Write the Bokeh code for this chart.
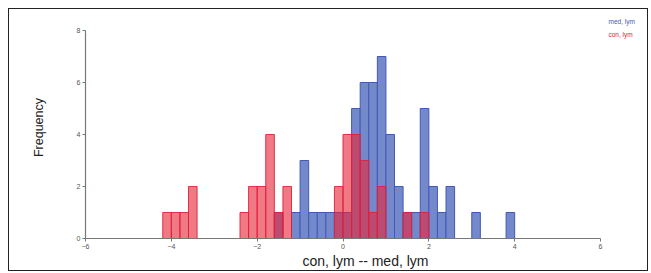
from bokeh.plotting import figure
from bokeh.models import FixedTicker
from bokeh.core.properties import value
from bokeh.embed import file_html
from bokeh.resources import INLINE

# Histogram data (bin left edge, count), bin width 0.2
bin_width = 0.2
med_left = [-1.6, -1.2, -1.0, -0.8, -0.6, -0.4, -0.2, 0.0, 0.2, 0.4, 0.6, 0.8,
            1.0, 1.2, 1.4, 1.6, 1.8, 2.0, 2.2, 2.4, 3.0, 3.8]
med_count = [1, 1, 3, 1, 1, 1, 1, 1, 5, 6, 6, 7,
             4, 2, 1, 1, 5, 2, 1, 2, 1, 1]
con_left = [-4.2, -4.0, -3.8, -3.6, -2.4, -2.2, -2.0, -1.8, -1.6, -1.4,
            -0.2, 0.0, 0.2, 0.4, 0.6, 0.8, 1.4, 1.8]
con_count = [1, 1, 1, 2, 1, 2, 2, 4, 1, 2,
             2, 4, 4, 3, 1, 2, 1, 1]
x_ticks = [-6, -4, -2, 0, 2, 4, 6]
y_ticks = [0, 2, 4, 6, 8]
series_names = ["med, lym", "con, lym"]
series_colors = ["#3f57b3", "#e0203a"]

p = figure(width=640, height=263, x_range=(-6, 7.048), y_range=(0, 8.538),
           output_backend="svg", toolbar_location=None,
           min_border_left=76, min_border_right=4, min_border_top=7, min_border_bottom=34)
p.styles = {"border": "1px solid #222", "margin": "8px 0 0 8px"}
p.outline_line_color = None
p.xgrid.visible = False
p.ygrid.visible = False

p.quad(left=med_left, right=[v + bin_width for v in med_left], bottom=0, top=med_count,
       fill_color="#7489cc", line_color="#4259b5", line_width=1)
p.quad(left=con_left, right=[v + bin_width for v in con_left], bottom=0, top=con_count,
       fill_color="#e8253a", fill_alpha=0.62, line_color="#e0203a", line_alpha=0.9, line_width=1)

for ax in (p.xaxis[0], p.yaxis[0]):
    ax.axis_line_color = "#777777"
    ax.axis_line_width = 1.2
    ax.major_tick_line_color = "#777777"
    ax.major_tick_in = 0
    ax.major_tick_out = 3
    ax.minor_tick_line_color = None
    ax.major_label_text_font = "Liberation Sans"
    ax.major_label_text_font_size = "7px"
    ax.major_label_text_color = "#555555"
    ax.major_label_standoff = 2
    ax.axis_label_text_font = "Liberation Sans"
    ax.axis_label_text_font_style = "normal"
    ax.axis_label_text_color = "#222222"

p.xaxis.ticker = FixedTicker(ticks=x_ticks)
p.yaxis.ticker = FixedTicker(ticks=y_ticks)
p.xaxis.bounds = (x_ticks[0], x_ticks[-1])
p.yaxis.bounds = (y_ticks[0], y_ticks[-1])
p.xaxis.axis_label = "con, lym -- med, lym"
p.xaxis.axis_label_text_font_size = "14px"
p.xaxis.axis_label_standoff = 1
p.yaxis.axis_label = "Frequency"
p.yaxis.axis_label_text_font_size = "12.5px"
p.yaxis.axis_label_standoff = 28

p.text(x=[6.186, 6.186], y=[8.346, 7.846], text=series_names, text_color=series_colors,
       text_font=value("Liberation Sans"), text_font_size="6.5px", text_baseline="middle")

open("out.html", "w").write(file_html(p, INLINE))
